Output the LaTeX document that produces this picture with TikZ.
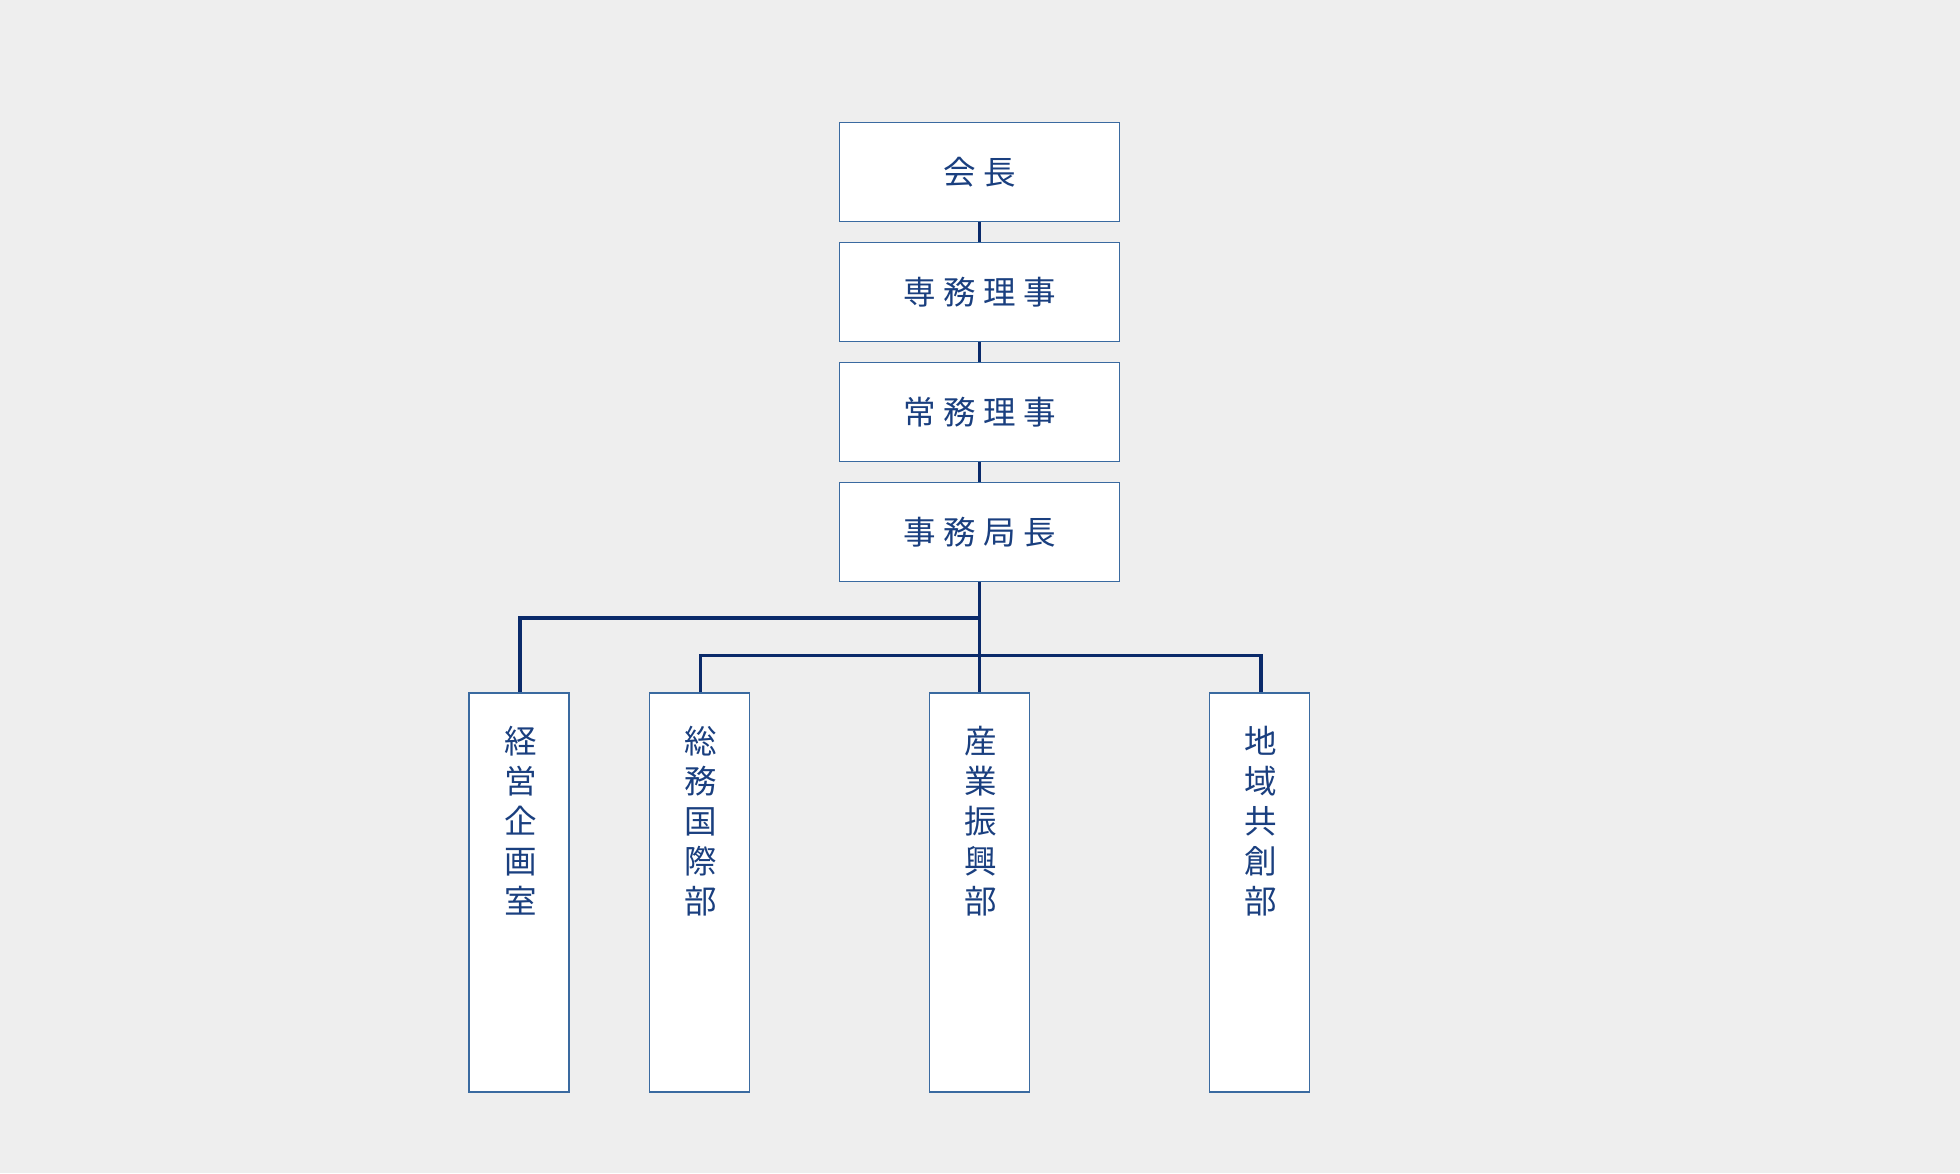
\documentclass[tikz,border=0pt]{standalone}
\usepackage{fontspec}
\newfontfamily\cjk{Noto Sans CJK JP}
\definecolor{bg}{HTML}{EEEEEE}
\definecolor{txt}{HTML}{1A3F7F}
\definecolor{bd}{HTML}{3A6AA0}
\definecolor{ln}{HTML}{0A2A6A}
\newcommand{\gapj}{\hspace{6pt}}
\begin{document}
\begin{tikzpicture}[x=1pt,y=-1pt,
  hbox/.style={draw=bd,line width=1pt,fill=white,minimum width=224pt,minimum height=79pt,inner sep=0pt,text=txt,font=\cjk\fontsize{26}{26}\selectfont},
  vbox/.style={draw=bd,line width=1pt,fill=white,minimum width=80pt,minimum height=319pt,inner sep=0pt},
  vtxt/.style={text=txt,font=\cjk\fontsize{26}{32}\selectfont,align=center,anchor=north,inner sep=0pt},
  conn/.style={draw=ln,line width=3pt}]
\fill[bg] (0,0) rectangle (1567,938);
\useasboundingbox (0,0) rectangle (1567,938);
\node[hbox] (a) at (783,137.5) {会\gapj 長};
\node[hbox] (b) at (783,233.5) {専\gapj 務\gapj 理\gapj 事};
\node[hbox] (c) at (783,329.5) {常\gapj 務\gapj 理\gapj 事};
\node[hbox] (d) at (783,425.5) {事\gapj 務\gapj 局\gapj 長};
\node[vbox] (e) at (415,713.5) {};
\node[vbox] (f) at (559,713.5) {};
\node[vbox] (g) at (783,713.5) {};
\node[vbox] (h) at (1007,713.5) {};
\node[vtxt] (te) at (416,580) {経\\営\\企\\画\\室};
\node[vtxt] (tf) at (560,580) {総\\務\\国\\際\\部};
\node[vtxt] (tg) at (784,580) {産\\業\\振\\興\\部};
\node[vtxt] (th) at (1008,580) {地\\域\\共\\創\\部};
\draw[conn] (a.south) -- (b.north);
\draw[conn] (b.south) -- (c.north);
\draw[conn] (c.south) -- (d.north);
\draw[conn] (d.south) -- (g.north);
\coordinate (j1) at (783,494);
\coordinate (j2) at (783,524);
\draw[conn] (j1) -| ([xshift=1pt]e.north);
\draw[conn] ([xshift=1pt]f.north) |- (j2) -| ([xshift=1pt]h.north);
\end{tikzpicture}
\end{document}
